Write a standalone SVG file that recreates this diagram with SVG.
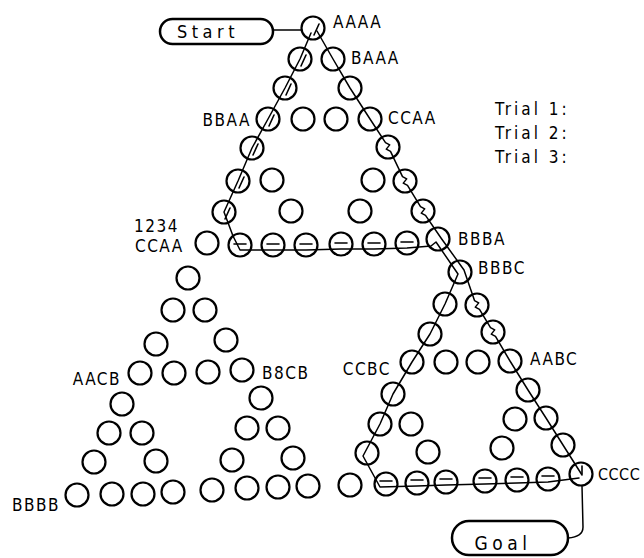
<svg xmlns="http://www.w3.org/2000/svg" width="644" height="558" viewBox="0 0 644 558">
  <style>
    .nd { fill: none; stroke: #000; stroke-width: 2.2; }
    .lb { font-family: "DejaVu Sans Condensed", "DejaVu Sans", sans-serif; font-stretch: condensed; font-size: 17px; letter-spacing: 1.5px; fill: #000; }
    .tr { font-family: "DejaVu Sans Condensed", "DejaVu Sans", sans-serif; font-stretch: condensed; font-size: 17px; letter-spacing: 3px; fill: #000; }
    .box { fill: none; stroke: #000; stroke-width: 2.5; }
    .path { fill: none; stroke: #000; stroke-width: 1.5; stroke-linejoin: round; stroke-linecap: round; }
    .mark { fill: none; stroke: #000; stroke-width: 1.6; stroke-linecap: round; }
  </style>

  <rect width="644" height="558" fill="#fff"/>

  <!-- trial routes drawn through the states -->
  <g id="connectors">
    <line class="path" x1="273" y1="30" x2="301" y2="30"/>
    <path class="path" d="M582,486 L583,527 Q583,537 568,538"/>
    <!-- route down the left sides -->
    <path class="path" d="M311,33 L300,59 L285,88 L268,119 L252,148 L238,181 L224,212 L233,236 L240,250 L273,250 L306,250 L341,249 L374,249 L407,248 L431,246 L436,242 L458,274 L445,304 L430,334 L412,362 L393,394 L380,424 L363,456 L380,487 L417,486 L446,485 L485,484 L517,483 L548,482 L579,478"/>
    <!-- route down the right sides -->
    <path class="path" d="M317,31 L333,59 L350,88 L370,119 L385.5,142.6 L389.7,144.9 L386.3,149.1 L390.5,151.4 L402.5,176.6 L406.7,178.9 L403.3,183.1 L407.5,185.4 L420.5,206.6 L424.7,208.9 L421.3,213.1 L425.5,215.4 L441,238 L464,270 L474.5,300.6 L478.7,302.9 L475.3,307.1 L479.5,309.4 L490.5,327.6 L494.7,329.9 L491.3,334.1 L495.5,336.4 L510,361 L528,390 L546,418 L563,445 L582,475"/>
    <!-- second-trial marks inside the states -->
    <path class="mark" d="M319,24 L314,35 M306,55 L301,66 M291,84 L286,95 M274,115 L269,126 M258,144 L253,155 M244,177 L239,188 M230,208 L225,219"/>
    <path class="mark" d="M234,244 L246,244 M267,244 L279,244 M300,244 L312,244 M335,243 L347,243 M368,243 L380,243 M401,242 L413,242"/>
    <path class="mark" d="M380,481 L392,481 M411,480 L423,480 M440,479 L452,479 M479,478 L491,478 M511,477 L523,477 M542,476 L554,476 M582,466 L582,474"/>
  </g>

  <!-- terminals -->
  <g id="start">
    <rect class="box" x="160" y="19" width="113" height="25" rx="12.5"/>
    <text class="lb" x="208" y="38" text-anchor="middle" style="font-size:18px;letter-spacing:4.5px">Start</text>
  </g>
  <g id="goal">
    <rect class="box" x="452" y="521" width="116" height="34" rx="17"/>
    <text class="lb" x="503" y="550" text-anchor="middle" style="font-size:19px;letter-spacing:4.5px">Goal</text>
  </g>

  <!-- upper triangle: largest disk on peg A -->
  <g id="n-AAAA"><circle class="nd" cx="313" cy="28" r="11.5"/><text class="lb" x="333" y="28">AAAA</text></g>
  <g id="n-t1"><circle class="nd" cx="300" cy="59" r="11.5"/></g>
  <g id="n-BAAA"><circle class="nd" cx="333" cy="59" r="11.5"/><text class="lb" x="351" y="64">BAAA</text></g>
  <g id="n-t3"><circle class="nd" cx="285" cy="88" r="11.5"/></g>
  <g id="n-t4"><circle class="nd" cx="350" cy="88" r="11.5"/></g>
  <g id="n-BBAA"><circle class="nd" cx="268" cy="119" r="11.5"/><text class="lb" x="251" y="126" text-anchor="end">BBAA</text></g>
  <g id="n-t6"><circle class="nd" cx="303" cy="119" r="11.5"/></g>
  <g id="n-t7"><circle class="nd" cx="336" cy="119" r="11.5"/></g>
  <g id="n-CCAA"><circle class="nd" cx="370" cy="119" r="11.5"/><text class="lb" x="388" y="124">CCAA</text></g>
  <g id="n-t9"><circle class="nd" cx="252" cy="148" r="11.5"/></g>
  <g id="n-t10"><circle class="nd" cx="388" cy="147" r="11.5"/></g>
  <g id="n-t11"><circle class="nd" cx="238" cy="181" r="11.5"/></g>
  <g id="n-t12"><circle class="nd" cx="272" cy="180" r="11.5"/></g>
  <g id="n-t13"><circle class="nd" cx="373" cy="180" r="11.5"/></g>
  <g id="n-t14"><circle class="nd" cx="405" cy="181" r="11.5"/></g>
  <g id="n-t15"><circle class="nd" cx="224" cy="212" r="11.5"/></g>
  <g id="n-t16"><circle class="nd" cx="291" cy="211" r="11.5"/></g>
  <g id="n-t17"><circle class="nd" cx="360" cy="211" r="11.5"/></g>
  <g id="n-t18"><circle class="nd" cx="423" cy="211" r="11.5"/></g>
  <g id="n-CCAA-key"><circle class="nd" cx="207" cy="243" r="11.5"/><text class="lb" x="134" y="232">1234</text><text class="lb" x="135" y="252">CCAA</text></g>
  <g id="n-t20"><circle class="nd" cx="240" cy="245" r="11.5"/></g>
  <g id="n-t21"><circle class="nd" cx="273" cy="245" r="11.5"/></g>
  <g id="n-t22"><circle class="nd" cx="306" cy="245" r="11.5"/></g>
  <g id="n-t23"><circle class="nd" cx="341" cy="244" r="11.5"/></g>
  <g id="n-t24"><circle class="nd" cx="374" cy="244" r="11.5"/></g>
  <g id="n-t25"><circle class="nd" cx="407" cy="243" r="11.5"/></g>
  <g id="n-BBBA"><circle class="nd" cx="438" cy="239" r="11.5"/><text class="lb" x="458" y="245">BBBA</text></g>

  <!-- lower-left triangle: largest disk on peg B -->
  <g id="n-l0"><circle class="nd" cx="188" cy="278" r="11.5"/></g>
  <g id="n-l1"><circle class="nd" cx="173" cy="310" r="11.5"/></g>
  <g id="n-l2"><circle class="nd" cx="205" cy="310" r="11.5"/></g>
  <g id="n-l3"><circle class="nd" cx="156" cy="344" r="11.5"/></g>
  <g id="n-l4"><circle class="nd" cx="226" cy="340" r="11.5"/></g>
  <g id="n-AACB"><circle class="nd" cx="140" cy="373" r="11.5"/><text class="lb" x="121" y="385" text-anchor="end">AACB</text></g>
  <g id="n-l6"><circle class="nd" cx="174" cy="373" r="11.5"/></g>
  <g id="n-l7"><circle class="nd" cx="208" cy="372" r="11.5"/></g>
  <g id="n-BBCB"><circle class="nd" cx="242" cy="370" r="11.5"/><text class="lb" x="262" y="379">B8CB</text></g>
  <g id="n-l9"><circle class="nd" cx="122" cy="404" r="11.5"/></g>
  <g id="n-l10"><circle class="nd" cx="261" cy="398" r="11.5"/></g>
  <g id="n-l11"><circle class="nd" cx="109" cy="433" r="11.5"/></g>
  <g id="n-l12"><circle class="nd" cx="142" cy="433" r="11.5"/></g>
  <g id="n-l13"><circle class="nd" cx="247" cy="428" r="11.5"/></g>
  <g id="n-l14"><circle class="nd" cx="278" cy="428" r="11.5"/></g>
  <g id="n-l15"><circle class="nd" cx="94" cy="462" r="11.5"/></g>
  <g id="n-l16"><circle class="nd" cx="156" cy="461" r="11.5"/></g>
  <g id="n-l17"><circle class="nd" cx="232" cy="460" r="11.5"/></g>
  <g id="n-l18"><circle class="nd" cx="293" cy="458" r="11.5"/></g>
  <g id="n-BBBB"><circle class="nd" cx="77" cy="495" r="11.5"/><text class="lb" x="12" y="511">BBBB</text></g>
  <g id="n-l20"><circle class="nd" cx="112" cy="494" r="11.5"/></g>
  <g id="n-l21"><circle class="nd" cx="143" cy="494" r="11.5"/></g>
  <g id="n-l22"><circle class="nd" cx="173" cy="492" r="11.5"/></g>
  <g id="n-l23"><circle class="nd" cx="212" cy="490" r="11.5"/></g>
  <g id="n-l24"><circle class="nd" cx="247" cy="488" r="11.5"/></g>
  <g id="n-l25"><circle class="nd" cx="278" cy="487" r="11.5"/></g>
  <g id="n-l26"><circle class="nd" cx="308" cy="486" r="11.5"/></g>

  <!-- lower-right triangle: largest disk on peg C -->
  <g id="n-BBBC"><circle class="nd" cx="460" cy="272" r="11.5"/><text class="lb" x="478" y="274">BBBC</text></g>
  <g id="n-r1"><circle class="nd" cx="445" cy="304" r="11.5"/></g>
  <g id="n-r2"><circle class="nd" cx="477" cy="305" r="11.5"/></g>
  <g id="n-r3"><circle class="nd" cx="430" cy="334" r="11.5"/></g>
  <g id="n-r4"><circle class="nd" cx="493" cy="332" r="11.5"/></g>
  <g id="n-CCBC"><circle class="nd" cx="412" cy="362" r="11.5"/><text class="lb" x="391" y="375" text-anchor="end">CCBC</text></g>
  <g id="n-r6"><circle class="nd" cx="446" cy="362" r="11.5"/></g>
  <g id="n-r7"><circle class="nd" cx="478" cy="362" r="11.5"/></g>
  <g id="n-AABC"><circle class="nd" cx="510" cy="361" r="11.5"/><text class="lb" x="530" y="365">AABC</text></g>
  <g id="n-r9"><circle class="nd" cx="393" cy="394" r="11.5"/></g>
  <g id="n-r10"><circle class="nd" cx="528" cy="390" r="11.5"/></g>
  <g id="n-r11"><circle class="nd" cx="380" cy="424" r="11.5"/></g>
  <g id="n-r12"><circle class="nd" cx="411" cy="424" r="11.5"/></g>
  <g id="n-r13"><circle class="nd" cx="515" cy="419" r="11.5"/></g>
  <g id="n-r14"><circle class="nd" cx="546" cy="418" r="11.5"/></g>
  <g id="n-r15"><circle class="nd" cx="367" cy="453" r="11.5"/></g>
  <g id="n-r16"><circle class="nd" cx="428" cy="452" r="11.5"/></g>
  <g id="n-r17"><circle class="nd" cx="502" cy="448" r="11.5"/></g>
  <g id="n-r18"><circle class="nd" cx="563" cy="445" r="11.5"/></g>
  <g id="n-r19"><circle class="nd" cx="350" cy="485" r="11.5"/></g>
  <g id="n-r20"><circle class="nd" cx="386" cy="484" r="11.5"/></g>
  <g id="n-r21"><circle class="nd" cx="417" cy="483" r="11.5"/></g>
  <g id="n-r22"><circle class="nd" cx="446" cy="482" r="11.5"/></g>
  <g id="n-r23"><circle class="nd" cx="485" cy="481" r="11.5"/></g>
  <g id="n-r24"><circle class="nd" cx="517" cy="480" r="11.5"/></g>
  <g id="n-r25"><circle class="nd" cx="548" cy="479" r="11.5"/></g>
  <g id="n-CCCC"><circle class="nd" cx="581" cy="474" r="11.5"/><text class="lb" x="598" y="480" style="font-size:16px;letter-spacing:0.5px">CCCC</text></g>

  <!-- trial legend -->
  <g id="legend">
    <text class="tr" x="495" y="115">Trial 1:</text>
    <text class="tr" x="495" y="139">Trial 2:</text>
    <text class="tr" x="495" y="163">Trial 3:</text>
  </g>
</svg>
